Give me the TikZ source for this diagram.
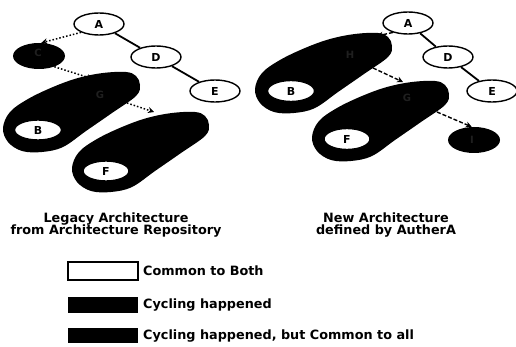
\documentclass[tikz,border=0pt]{standalone}
\usepackage{fontspec}
\setmainfont{DejaVu Sans}
\usetikzlibrary{arrows.meta,shapes.geometric}

% outline of a cycle region, relative to the node it encloses
\newcommand\cycleregion[1]{%
  \fill[black, shift={#1}] plot[smooth cycle, tension=0.6] coordinates {
    (88,-58) (98,-54) (102,-45) (98,-34) (74,-17) (48,1) (25,17)
    (4,22) (-16,21) (-30,12) (-35,-2) (-28,-18) (-10,-31) (15,-43)
    (40,-52) (65,-57)};}

\begin{document}
\begin{tikzpicture}[x=1pt,y=-1pt,
  common/.style={ellipse, draw=black, line width=1.4pt, fill=white,
    minimum width=50pt, minimum height=22pt, inner sep=0pt,
    font=\bfseries\fontsize{11}{11}\selectfont},
  cycled/.style={ellipse, fill=black, minimum width=52pt, minimum height=26pt,
    inner sep=0pt},
  hidden/.style={text=white!12!black, inner sep=0pt,
    font=\bfseries\fontsize{10}{10}\selectfont},
  tree/.style={line width=1.8pt},
  dotarrow/.style={line width=1.5pt, dotted, -{Stealth[length=6pt,width=6pt]}},
  dasharrow/.style={line width=1.4pt, dash pattern=on 4pt off 2pt,
    -{Stealth[length=6pt,width=6pt]}},
  caption/.style={align=center, inner sep=0pt,
    font=\bfseries\fontsize{12.8}{12.5}\selectfont},
  legendtext/.style={anchor=west, inner sep=0pt,
    font=\bfseries\fontsize{12.8}{13}\selectfont},
  swatch/.style={line width=1.4pt}
]
\useasboundingbox (0,0) rectangle (516,347);

% ---------- legacy architecture ----------
\cycleregion{(38,130)}
\cycleregion{(107,170)}
\node[cycled] (C1) at (39,56) {};
\node[hidden] (C1t) at (38,53) {C};
\node[hidden] (G1t) at (100,95) {G};
\node[common] (A1) at (99,24) {A};
\node[common] (D1) at (156,57) {D};
\node[common] (E1) at (215,91) {E};
\node[common, minimum width=47pt, minimum height=20pt] (B1) at (38,130) {B};
\node[common, minimum width=46pt, minimum height=20pt] (F1) at (106,171) {F};
\coordinate (g1top) at (93,79);
\coordinate (g1out) at (127,103);
\coordinate (f1top) at (154,112);

\draw[tree] (A1) -- (D1);
\draw[tree] (D1) -- (E1);
\draw[dotarrow] (A1.205) -- (C1.80);
\draw[dotarrow] (C1.-35) -- (g1top);
\draw[dotarrow] (g1out) -- (f1top);

% ---------- new architecture ----------
\cycleregion{(290,91)}
\cycleregion{(347,139)}
\node[cycled] (I2) at (474,140) {};
\node[hidden] (I2t) at (472,140) {I};
\node[hidden] (H2t) at (350,55) {H};
\node[hidden] (G2t) at (407,98) {G};
\node[common] (A2) at (408,23) {A};
\node[common] (D2) at (448,57) {D};
\node[common] (E2) at (492,91) {E};
\node[common, minimum width=47pt, minimum height=21pt] (B2) at (291,91) {B};
\node[common, minimum width=46pt, minimum height=21pt] (F2) at (347,139) {F};
\coordinate (h2top) at (377,36);
\coordinate (h2out) at (373,68);
\coordinate (g2top) at (403,82);
\coordinate (g2out) at (437,112);

\draw[tree] (A2) -- (D2);
\draw[tree] (D2) -- (E2);
\draw[dasharrow] (A2.212) -- (h2top);
\draw[dasharrow] (h2out) -- (g2top);
\draw[dasharrow] (g2out) -- (I2.100);

% ---------- captions ----------
\node[caption] (cap1) at (116,225) {Legacy Architecture\\from Architecture Repository};
\node[caption] (cap2) at (386,225) {New Architecture\\defined by AutherA};

% ---------- legend ----------
\draw[swatch, fill=white] (68,262) rectangle (138,280);
\fill[black] (68,297) rectangle (138,313);
\fill[black] (68,328) rectangle (138,343);
\node[legendtext] (l1) at (143,271) {Common to Both};
\node[legendtext] (l2) at (143,305) {Cycling happened};
\node[legendtext] (l3) at (143,336) {Cycling happened, but Common to all};
\end{tikzpicture}
\end{document}
